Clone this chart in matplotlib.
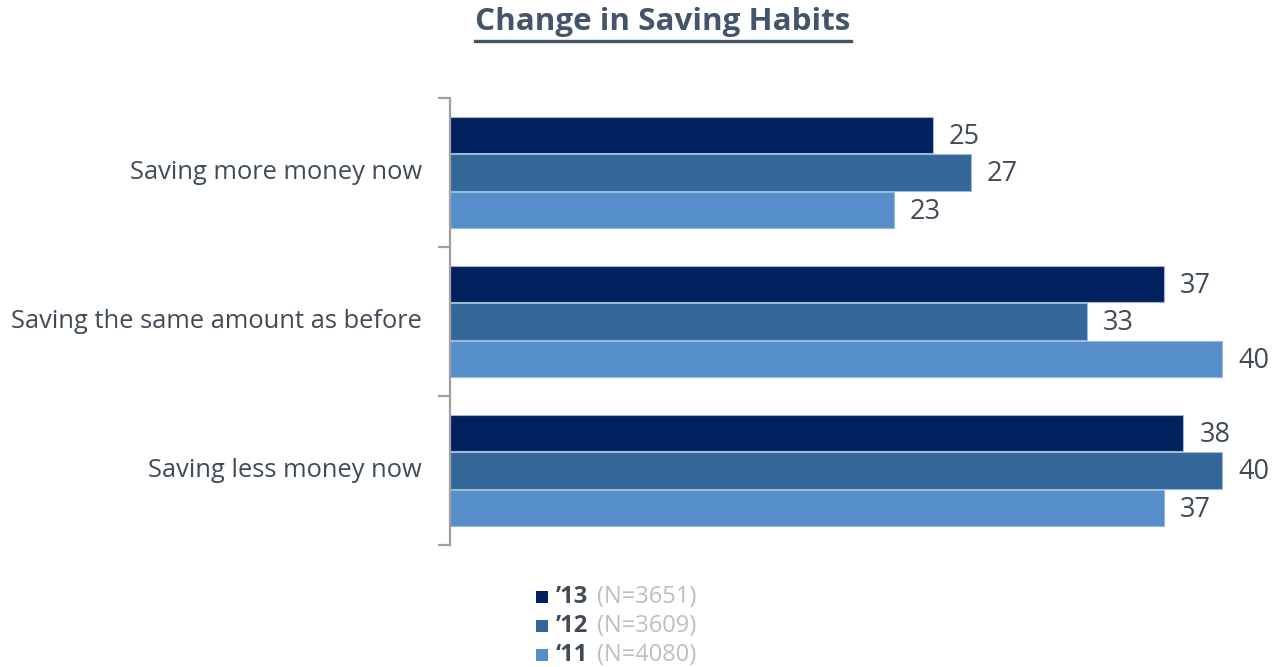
import matplotlib
matplotlib.use("Agg")
import matplotlib.pyplot as plt
from matplotlib.patches import Rectangle
from matplotlib.lines import Line2D

categories = ["Saving more money now", "Saving the same amount as before", "Saving less money now"]
series_labels = ["\u201913", "\u201912", "\u201811"]
series_n = ["(N=3651)", "(N=3609)", "(N=4080)"]
values_13 = [25, 37, 38]
values_12 = [27, 33, 40]
values_11 = [23, 40, 37]
series_values = [values_13, values_12, values_11]
colors = ["#00205E", "#336699", "#558ECA"]
text_color = "#404B57"
font = "Open Sans"

W, H = 1272, 667
fig = plt.figure(figsize=(W / 100, H / 100), dpi=100)
ax_left, ax_right, ax_top, ax_bottom = 450, 1250, 98, 545
ax = fig.add_axes([ax_left / W, (H - ax_bottom) / H, (ax_right - ax_left) / W, (ax_bottom - ax_top) / H])

px_per_unit = (1222 - 450) / 40.0
ax.set_xlim(0, (ax_right - ax_left) / px_per_unit)
n = len(categories)
ax.set_ylim(0, n)

bar_h = 0.243
offsets = [0.25, 0.0, -0.25]
for s, (vals, col, off) in enumerate(zip(series_values, colors, offsets)):
    for i, v in enumerate(vals):
        yc = n - i - 0.5 + off
        ax.barh(yc, v, height=bar_h, color=col, edgecolor="#9DB9DA", linewidth=0.8)
        ax.text(v + 16 / px_per_unit, yc - 0.012, str(v), va="center", ha="left",
                fontsize=19.5, color=text_color, family=font)

for sp in ["top", "right", "bottom"]:
    ax.spines[sp].set_visible(False)
ax.spines["left"].set_color("#A0A0A0")
ax.spines["left"].set_linewidth(1.6)
ax.set_xticks([])
ax.set_yticks(range(n + 1))
ax.set_yticklabels([])
ax.tick_params(axis="y", direction="out", length=9, width=1.6, color="#A0A0A0")
for i, c in enumerate(categories):
    ax.text(-28 / px_per_unit, n - i - 0.5, c, ha="right", va="center",
            fontsize=18.4, color=text_color, family=font)

# Title with underline
title = fig.text(663 / W, 1 - 22 / H, "Change in Saving Habits", ha="center", va="center",
                 fontsize=22.6, fontweight="bold", color="#44546A", family=font)
fig.canvas.draw()
bb = title.get_window_extent(renderer=fig.canvas.get_renderer())
uy = (H - 41) / H
fig.add_artist(Line2D([bb.x0 / W, bb.x1 / W], [uy, uy], transform=fig.transFigure,
                      color="#44546A", linewidth=2.4))

# Legend
legend_y = [597, 626, 655]
for lab, nn, col, yy in zip(series_labels, series_n, colors, legend_y):
    fig.add_artist(Rectangle(((536) / W, (H - yy - 6) / H), 12 / W, 12 / H,
                             transform=fig.transFigure, facecolor=col, edgecolor="none"))
    fig.text(556 / W, 1 - yy / H, lab, ha="left", va="center", fontsize=17,
             fontweight="bold", color=text_color, family=font)
    fig.text(597 / W, 1 - yy / H, nn, ha="left", va="center", fontsize=17,
             color="#BFBFBF", family=font)

fig.savefig("out.png", dpi=100)
